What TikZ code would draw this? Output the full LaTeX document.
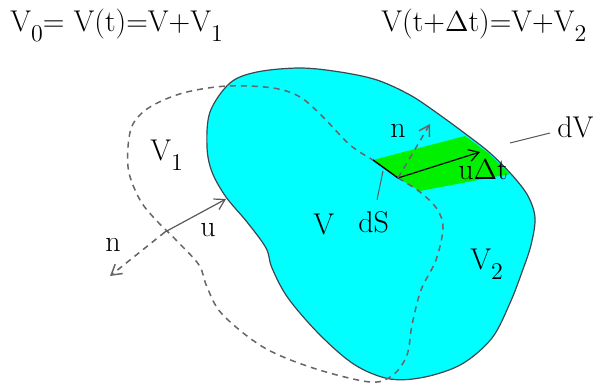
\documentclass[tikz,border=0pt]{standalone}
\usepackage{fontspec}
\usetikzlibrary{arrows.meta}
\definecolor{vcyan}{RGB}{0,255,255}
\definecolor{vgreen}{RGB}{0,240,0}
\newcommand{\lowsub}[1]{\raisebox{-5pt}{\fontsize{12}{12}\selectfont #1}}
\newcommand{\dlt}{\ensuremath{\Delta}}

\begin{document}
\begin{tikzpicture}[x=0.5pt,y=-0.5pt,
    lbl/.style={anchor=base west,inner sep=0pt,font=\rmfamily\fontsize{15}{18}\selectfont\addfontfeature{FakeBold=0.3}},
    bound/.style={dash pattern=on 3pt off 2.5pt,gray!80!black,line width=0.75pt},
    vec/.style={-{Straight Barb[length=5pt,width=6pt]},line width=0.6pt}]

    \useasboundingbox (0,0) rectangle (603,383);

    % Volume V(t+dt)
    \filldraw[fill=vcyan,draw=black!80!cyan,line width=0.6pt]
        plot[smooth cycle,tension=0.55] coordinates {
        (230,83) (257,72) (300,68) (340,72) (377,80) (410,95) (437,113)
        (467,135) (490,153) (512,175) (528,196) (535,218) (531,245)
        (522,272) (510,303) (492,338) (462,364) (425,377) (390,379)
        (355,365) (320,335) (288,298) (272,268) (266,248) (247,222)
        (226,197) (212,172) (207,147) (210,112)};

    \coordinate (dSa) at (373,160);
    \coordinate (dSb) at (398,178);
    \coordinate (udt) at (480,152);
    \coordinate (ntop) at (430,124);
    \coordinate (dSl) at (383,171);
    \coordinate (dSe) at (377,200);
    \coordinate (dVa) at (510,143);
    \coordinate (dVe) at (550,133);
    \coordinate (ufoot) at (165,232);
    \coordinate (uhead) at (226,199);
    \coordinate (nhead) at (110,276);

    % swept element dV
    \fill[vgreen] (dSa) -- (465,136) -- (488,153) -- (510,174) -- (420,191) -- (dSb) -- cycle;

    % Volume V0 = V(t)
    \draw[bound] plot[smooth,tension=0.55] coordinates {
        (398,178) (420,192) (437,209) (443,228) (436,260) (421,290)
        (412,325) (407,355) (393,375) (370,382) (313,368) (263,347)
        (222,314) (207,287) (199,265) (177,241) (155,219) (140,200)
        (129,173) (128,147) (133,124) (150,107) (183,93) (227,86)
        (273,88) (300,97) (323,117) (350,145) (373,160)};
    \draw[line width=0.7pt] (dSa) -- (dSb);

    % vectors at dS
    \draw[vec] (dSb) -- (udt);
    \draw[vec,bound] (dSb) -- (ntop);
    \draw[line width=0.5pt,gray!70!black] (dSl) -- (dSe);
    \draw[line width=0.5pt,gray!70!black] (dVa) -- (dVe);

    % vectors on the left
    \draw[vec,gray!70!black] (ufoot) -- (uhead);
    \draw[vec,bound] (ufoot) -- (nhead);

    % labels
    \node[lbl] (t0) at (10,32) {\addfontfeature{LetterSpace=1}V\lowsub{0}= V(t)=V+V\lowsub{1}};
    \node[lbl] (t1) at (381,32) {\addfontfeature{LetterSpace=8}V(t+\dlt t)=V+V\lowsub{2}};
    \node[lbl] (lV1) at (150,161) {V\lowsub{1}};
    \node[lbl] (lV) at (313,235) {V};
    \node[lbl] (ldS) at (358,233) {dS};
    \node[lbl] (lV2) at (470,270) {V\lowsub{2}};
    \node[lbl] (ln) at (390,138) {n};
    \node[lbl] (ludt) at (458,180) {u\dlt t};
    \node[lbl] (ldV) at (557,138) {dV};
    \node[lbl] (lu) at (200,237) {u};
    \node[lbl] (lnl) at (105,252) {n};

\end{tikzpicture}
\end{document}
